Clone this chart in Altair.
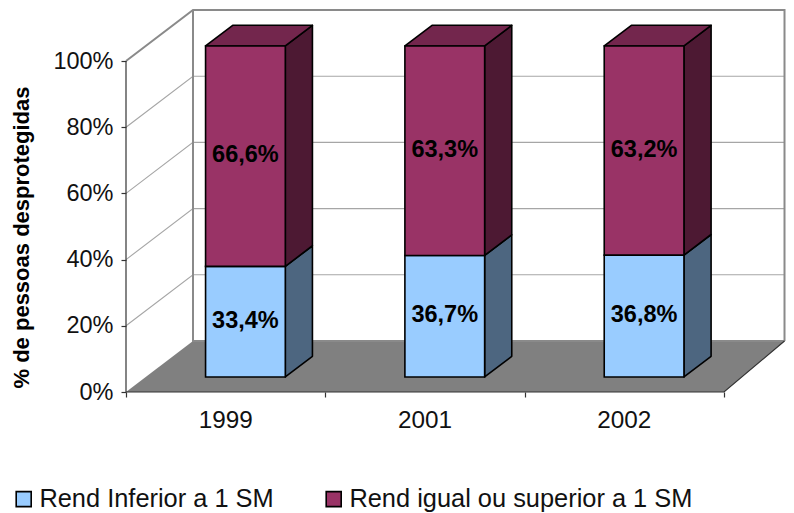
import altair as alt
import pandas as pd

# ---- chart values ----
years = ["1999", "2001", "2002"]
lower = [33.4, 36.7, 36.8]
upper = [66.6, 63.3, 63.2]
series_names = ["Rend Inferior a 1 SM", "Rend igual ou superior a 1 SM"]
y_ticks = [0, 20, 40, 60, 80, 100]
x_ticks = [0, 1, 2, 3]

# ---- oblique projection, in data units ----
PX_X = 199.33          # pixels per category
PX_Y = 3.31            # pixels per percent
DEPTH_X = 67 / PX_X    # full depth as category units
DEPTH_Y = 51 / PX_Y    # full depth as percent units
Z0, Z1 = 0.295, 0.70   # bar depth range
BAR = 0.40             # bar width in category units
W, H = 660, 384
FONT = "Liberation Sans"

def px(x, z):
    return x + z * DEPTH_X

def py(v, z):
    return v + z * DEPTH_Y

xs = alt.Scale(domain=[0, W / PX_X], nice=False, zero=False)
ys = alt.Scale(domain=[0, H / PX_Y], nice=False, zero=False)
X = alt.X("x:Q", scale=xs, axis=None)
Xn = alt.X("x:Q", scale=xs, axis=None, sort=None)
Y = alt.Y("y:Q", scale=ys, axis=None)
Y2 = alt.Y2("y2:Q")

n = len(years)
n_back = 2.9675  # back wall's right end, pulled in so it stays on the page

floor = pd.DataFrame([
    dict(id=0, x=px(0, 0), y=py(0, 0), y2=py(0, 0)),
    dict(id=0, x=px(0, 1), y=py(0, 1), y2=py(0, 0)),
    dict(id=0, x=px(n, 0), y=py(0, 1), y2=py(0, 0)),
    dict(id=0, x=px(n_back, 1), y=py(0, 1), y2=py(0, 1)),
])
grid_rows, wall_rows = [], []
for v in y_ticks[1:-1]:
    for k, (c, z) in enumerate([(0, 0), (0, 1), (n_back, 1)]):
        grid_rows.append(dict(id=v, k=k, x=px(c, z), y=py(v, z)))
for k, (c, v, z) in enumerate([(0, 100, 0), (0, 100, 1), (n_back, 100, 1), (n_back, 0, 1)]):
    wall_rows.append(dict(id="a", k=k, x=px(c, z), y=py(v, z)))
for k, (c, v, z) in enumerate([(0, 100, 1), (0, 0, 1), (n_back, 0, 1)]):
    wall_rows.append(dict(id="b", k=k, x=px(c, z), y=py(v, z)))
grid = pd.DataFrame(grid_rows)
walls = pd.DataFrame(wall_rows)

edge_rows = []
for k, v in enumerate([100, 0]):
    edge_rows.append(dict(id="left", k=k, x=px(0, 0), y=py(v, 0)))
for k, (c, z) in enumerate([(0, 0), (n, 0)]):
    edge_rows.append(dict(id="front", k=k, x=px(c, z), y=py(0, z)))
edge_rows.append(dict(id="front", k=2, x=px(n_back, 1), y=py(0, 1)))
edges = pd.DataFrame(edge_rows)

front, side_low, side_up, top, labels = [], [], [], [], []
for i, yr in enumerate(years):
    x0 = i + 0.5 - BAR / 2
    x1 = i + 0.5 + BAR / 2
    lo, up = lower[i], upper[i]
    total = lo + up
    for name, a, b, side in [(series_names[0], 0, lo, side_low), (series_names[1], lo, total, side_up)]:
        front.append(dict(series=name, x=px(x0, Z0), x2=px(x1, Z0), y=py(b, Z0), y2=py(a, Z0)))
        side.append(dict(id=i, x=px(x1, Z0), y=py(b, Z0), y2=py(a, Z0)))
        side.append(dict(id=i, x=px(x1, Z1), y=py(b, Z1), y2=py(a, Z1)))
        labels.append(dict(x=px(i + 0.5, Z0), y=py((a + b) / 2, Z0),
                           t=f"{b - a:.1f}".replace(".", ",") + "%"))
    top += [
        dict(id=i, x=px(x0, Z0), y=py(total, Z0), y2=py(total, Z0)),
        dict(id=i, x=px(x0, Z1), y=py(total, Z1), y2=py(total, Z0)),
        dict(id=i, x=px(x1, Z0), y=py(total, Z1), y2=py(total, Z0)),
        dict(id=i, x=px(x1, Z1), y=py(total, Z1), y2=py(total, Z1)),
    ]

axis_holder = alt.Chart(pd.DataFrame({"x": [0.0], "y": [0.0]})).mark_point(opacity=0).encode(
    x=alt.X("x:Q", scale=xs, axis=alt.Axis(
        values=x_ticks, labels=False, title=None, grid=False, domain=False,
        ticks=True, tickSize=5, tickColor="#333333", tickWidth=1.2)),
    y=alt.Y("y:Q", scale=ys, axis=alt.Axis(
        values=y_ticks, labelExpr="datum.value + '%'", grid=False, domain=False,
        ticks=True, tickSize=5, tickColor="#333333", tickWidth=1.2,
        labelFont=FONT, labelFontSize=23.5, labelColor="#111111", labelPadding=8,
        title="% de pessoas desprotegidas", titleFont=FONT, titleFontSize=22,
        titleFontWeight="bold", titleColor="#000000",
        titleX=-93, titleY=229)),
)

def area(rows, color):
    return alt.Chart(pd.DataFrame(rows)).mark_area(
        color=color, stroke="#000000", strokeWidth=1.6, interpolate="linear", strokeJoin="round"
    ).encode(x=X, y=Y, y2=Y2, detail="id:N")

floor_l = alt.Chart(floor).mark_area(color="#808080", interpolate="linear").encode(
    x=X, y=Y, y2=Y2, detail="id:N")
grid_l = alt.Chart(grid).mark_line(color="#A6A6A6", strokeWidth=1.1, interpolate="linear").encode(
    x=Xn, y=Y, detail="id:N", order="k:Q")
walls_l = alt.Chart(walls).mark_line(color="#8A8A8A", strokeWidth=2, interpolate="linear").encode(
    x=Xn, y=Y, detail="id:N", order="k:Q")
edges_l = alt.Chart(edges).mark_line(color="#333333", strokeWidth=1.2, interpolate="linear").encode(
    x=Xn, y=Y, detail="id:N", order="k:Q")

front_l = alt.Chart(pd.DataFrame(front)).mark_rect(stroke="#000000", strokeWidth=1.6).encode(
    x=X, x2=alt.X2("x2:Q"), y=Y, y2=Y2,
    color=alt.Color("series:N", scale=alt.Scale(domain=series_names, range=["#99CCFF", "#993366"]),
        legend=alt.Legend(
            title=None, orient="none", legendX=-115, legendY=478, direction="horizontal", columns=2,
            symbolType="square", symbolSize=225, symbolStrokeColor="#000000", symbolStrokeWidth=1.6,
            labelFont=FONT, labelFontSize=25.4, labelColor="#111111", labelLimit=500,
            columnPadding=47, symbolOffset=0, labelOffset=3, padding=0)),
)

year_df = pd.DataFrame({"x": [i + 0.5 for i in range(n)], "y": [-8.8] * n, "t": years})
years_l = alt.Chart(year_df).mark_text(font=FONT, fontSize=24.3, color="#111111", baseline="middle").encode(
    x=X, y=Y, text="t:N")
labels_l = alt.Chart(pd.DataFrame(labels)).mark_text(
    font=FONT, fontSize=23.5, fontWeight="bold", color="#000000", baseline="middle", dy=-1
).encode(x=X, y=Y, text="t:N")

chart = alt.layer(
    axis_holder, floor_l, grid_l, walls_l, edges_l,
    area(side_low, "#4D6680"), area(side_up, "#4D1933"), area(top, "#73264D"),
    front_l, labels_l, years_l,
).resolve_axis(x="independent", y="independent").properties(
    width=W, height=H,
    padding={"left": 118, "top": 0, "right": 0, "bottom": 120},
    autosize=alt.AutoSizeParams(type="none"),
    background="#ffffff",
).configure_view(stroke=None)

chart.save("out.html", embed_options={"renderer": "svg", "actions": False})
